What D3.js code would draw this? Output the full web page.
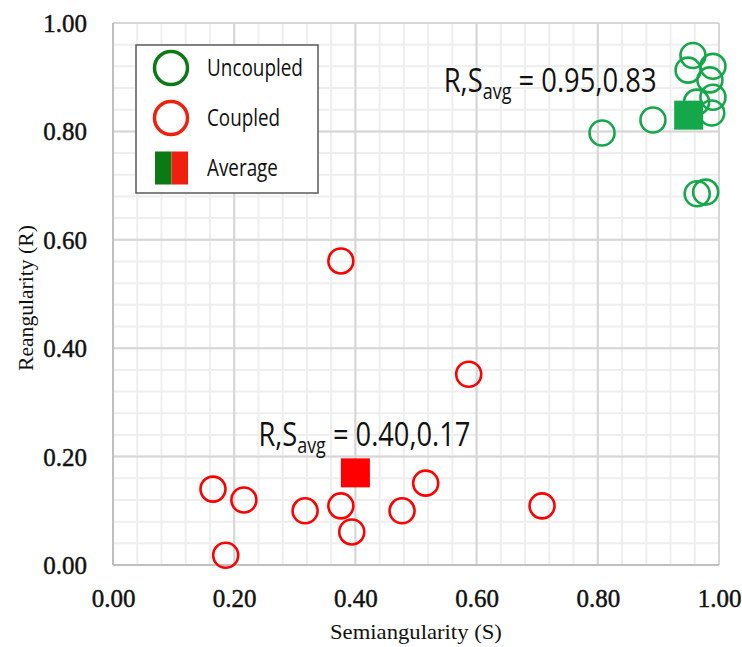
<!DOCTYPE html>
<html>
<head>
<meta charset="utf-8">
<script src="https://cdn.jsdelivr.net/npm/d3@7"></script>
<style>
  html, body { margin: 0; padding: 0; background: #fff; }
  svg { display: block; }
</style>
</head>
<body>
<svg id="chart" width="742" height="647"></svg>
<script>
// Uncoupled joints (green)
const uncoupledS = [0.807, 0.891, 0.957, 0.949, 0.990, 0.985, 0.990, 0.963, 0.988, 0.964, 0.978];
const uncoupledR = [0.797, 0.821, 0.940, 0.913, 0.920, 0.895, 0.863, 0.854, 0.834, 0.685, 0.688];

// Coupled joints (red)
const coupledS = [0.165, 0.216, 0.186, 0.317, 0.376, 0.394, 0.477, 0.516, 0.708, 0.376, 0.587];
const coupledR = [0.140, 0.120, 0.018, 0.100, 0.109, 0.061, 0.100, 0.151, 0.109, 0.561, 0.352];

// Group averages [S, R]
const avgUncoupled = [0.95, 0.83];
const avgCoupled = [0.40, 0.17];

const xTicks = [0, 0.2, 0.4, 0.6, 0.8, 1.0];
const yTicks = [0, 0.2, 0.4, 0.6, 0.8, 1.0];
const minorStep = 0.04;

const legendLabels = ["Uncoupled", "Coupled", "Average"];
const xTitle = "Semiangularity (S)";
const yTitle = "Reangularity (R)";

const svg = d3.select("#chart");
const plotL = 113, plotR = 719, plotT = 23, plotB = 565;

const x = d3.scaleLinear().domain([0, 1]).range([plotL, plotR]);
const y = d3.scaleLinear().domain([0, 1]).range([plotB, plotT]);

const GREEN = "#14a84b", RED = "#ff0000";
const LEG_GREEN = "#0b7a12", LEG_RED = "#f0200e";
const tickFont = "'Liberation Serif', serif";
const titleFont = "'Liberation Serif', serif";
const sans = "'Open Sans', 'Noto Sans', sans-serif";

svg.append("rect").attr("width", 742).attr("height", 647).attr("fill", "#fff");

// Gridlines: minor then major
const minor = d3.range(0, 1 + 1e-9, minorStep);
const grid = svg.append("g");
grid.selectAll("line.mx").data(minor).join("line")
  .attr("x1", d => x(d)).attr("x2", d => x(d)).attr("y1", plotT).attr("y2", plotB)
  .attr("stroke", "#eeeeee").attr("stroke-width", 2);
grid.selectAll("line.my").data(minor).join("line")
  .attr("y1", d => y(d)).attr("y2", d => y(d)).attr("x1", plotL).attr("x2", plotR)
  .attr("stroke", "#eeeeee").attr("stroke-width", 2);
grid.selectAll("line.Mx").data(xTicks).join("line")
  .attr("x1", d => x(d)).attr("x2", d => x(d)).attr("y1", plotT).attr("y2", plotB)
  .attr("stroke", "#d6d6d6").attr("stroke-width", 2);
grid.selectAll("line.My").data(yTicks).join("line")
  .attr("y1", d => y(d)).attr("y2", d => y(d)).attr("x1", plotL).attr("x2", plotR)
  .attr("stroke", "#d6d6d6").attr("stroke-width", 2);

// Axis lines
svg.append("line").attr("x1", plotL).attr("x2", plotL).attr("y1", plotT).attr("y2", plotB)
  .attr("stroke", "#bfbfbf").attr("stroke-width", 2);
svg.append("line").attr("x1", plotL).attr("x2", plotR).attr("y1", plotB).attr("y2", plotB)
  .attr("stroke", "#bfbfbf").attr("stroke-width", 2);

// Tick labels
const fmt = d3.format(".2f");
const xAxis = svg.append("g").attr("transform", `translate(0,${plotB})`)
  .call(d3.axisBottom(x).tickValues(xTicks).tickFormat(fmt).tickSize(0).tickPadding(24));
const yAxis = svg.append("g").attr("transform", `translate(${plotL},0)`)
  .call(d3.axisLeft(y).tickValues(yTicks).tickFormat(fmt).tickSize(0).tickPadding(26));
[xAxis, yAxis].forEach(a => {
  a.select(".domain").remove();
  a.selectAll("text").attr("font-family", tickFont).attr("font-size", 25).attr("fill", "#111")
    .attr("stroke", "#111").attr("stroke-width", 0.45);
});
yAxis.selectAll("text").attr("dy", "0.34em");

// Fit a text group horizontally to a given width (condensed look)
function fitText(g, width, anchor, tx, ty, extra = "") {
  const bb = g.node().getBBox();
  const k = width / bb.width;
  let ox = -bb.x * k;
  if (anchor === "end") ox = -(bb.x + bb.width) * k;
  if (anchor === "middle") ox = -(bb.x + bb.width / 2) * k;
  g.attr("transform", `translate(${tx},${ty}) ${extra} translate(${ox},0) scale(${k},1)`);
}

// Axis titles
const xt = svg.append("g");
xt.append("text").attr("font-family", titleFont).attr("font-size", 21).attr("fill", "#111").text(xTitle);
fitText(xt, 172, "middle", (plotL + plotR) / 2, 639);
const yt = svg.append("g");
yt.append("text").attr("font-family", titleFont).attr("font-size", 21).attr("fill", "#111").text(yTitle);
fitText(yt, 146, "middle", 33, (plotT + plotB) / 2 + 4, "rotate(-90)");

// Data points
const pts = svg.append("g");
pts.selectAll("circle.c").data(d3.zip(coupledS, coupledR)).join("circle")
  .attr("cx", d => x(d[0])).attr("cy", d => y(d[1])).attr("r", 12.5)
  .attr("fill", "none").attr("stroke", RED).attr("stroke-width", 2.6);
pts.selectAll("circle.u").data(d3.zip(uncoupledS, uncoupledR)).join("circle")
  .attr("cx", d => x(d[0])).attr("cy", d => y(d[1])).attr("r", 12.5)
  .attr("fill", "none").attr("stroke", GREEN).attr("stroke-width", 2.6);

// Average markers
const sq = 29;
[[avgUncoupled, GREEN], [avgCoupled, RED]].forEach(([a, c]) => {
  pts.append("rect").attr("x", x(a[0]) - sq / 2).attr("y", y(a[1]) - sq / 2)
    .attr("width", sq).attr("height", sq).attr("fill", c);
});

// Average annotations
function annotate(a, anchor, dx, dy, width) {
  const g = svg.append("g");
  const t = g.append("text").attr("font-family", sans).attr("font-size", 32).attr("fill", "#111");
  t.append("tspan").text("R,S");
  t.append("tspan").attr("font-size", 21).attr("dy", 7).text("avg");
  t.append("tspan").attr("dy", -7).text(` = ${fmt(a[0])},${fmt(a[1])}`);
  fitText(g, width, anchor, x(a[0]) + dx, y(a[1]) + dy);
}
annotate(avgUncoupled, "end", -32, -23, 213);
annotate(avgCoupled, "middle", 9, -27, 212);

// Legend
const lg = svg.append("g");
lg.append("rect").attr("x", 136).attr("y", 45).attr("width", 182).attr("height", 148)
  .attr("fill", "#fff").attr("stroke", "#5a5a5a").attr("stroke-width", 1.5);
const legRows = [68, 118, 168];
lg.append("circle").attr("cx", 171).attr("cy", legRows[0]).attr("r", 16.5)
  .attr("fill", "none").attr("stroke", LEG_GREEN).attr("stroke-width", 3.5);
lg.append("circle").attr("cx", 171).attr("cy", legRows[1]).attr("r", 16.5)
  .attr("fill", "none").attr("stroke", LEG_RED).attr("stroke-width", 3.5);
lg.append("rect").attr("x", 155).attr("y", legRows[2] - 16.5).attr("width", 16.5).attr("height", 33).attr("fill", LEG_GREEN);
lg.append("rect").attr("x", 171.5).attr("y", legRows[2] - 16.5).attr("width", 16.5).attr("height", 33).attr("fill", LEG_RED);
const legWidths = [96, 73, 71];
legendLabels.forEach((lab, i) => {
  const g = lg.append("g");
  g.append("text").attr("font-family", sans).attr("font-size", 23).attr("fill", "#111").text(lab);
  fitText(g, legWidths[i], "start", 207, legRows[i] + 8);
});
</script>
</body>
</html>
